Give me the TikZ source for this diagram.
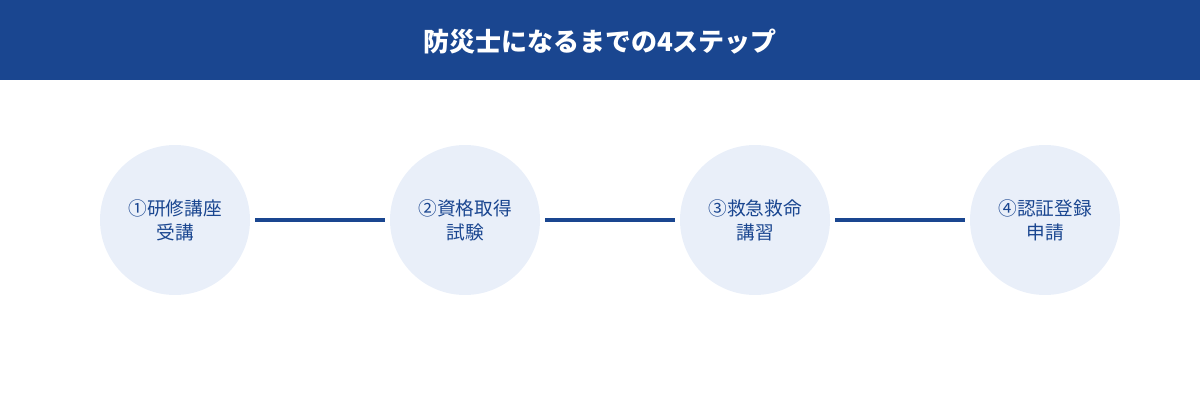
\documentclass[tikz,border=0pt]{standalone}
\usepackage{fontspec}
\setmainfont{Noto Sans CJK JP}
\usetikzlibrary{positioning}
\definecolor{navy}{HTML}{1A4690}
\definecolor{pale}{HTML}{E9EFF9}
\tikzset{
  stage/.style={circle, fill=pale, minimum size=112.5pt, inner sep=0pt, align=center,
    text=navy, font=\fontsize{14}{18}\selectfont},
  link/.style={draw=navy, line width=3pt}
}
\begin{document}
\begin{tikzpicture}[x=0.75pt,y=-0.75pt]
	\useasboundingbox (0,0) rectangle (1200,400);
	\fill [navy] (0,0) rectangle (1200,80);
	\node (title) [text=white, font=\bfseries\fontsize{19.5}{22}\selectfont] at (600,42) {防災士になるまでの4ステップ};
	
	\node (s1) [stage] at (175,220) {①研修講座\\受講};
	\node (s2) [stage] at (465,220) {②資格取得\\試験};
	\node (s3) [stage] at (755,220) {③救急救命\\講習};
	\node (s4) [stage] at (1045,220) {④認証登録\\申請};
	
	\foreach \a/\b in {s1/s2, s2/s3, s3/s4}
		\draw [link] ([xshift=3.75pt]\a.east) -- ([xshift=-3.75pt]\b.west);
\end{tikzpicture}
\end{document}
